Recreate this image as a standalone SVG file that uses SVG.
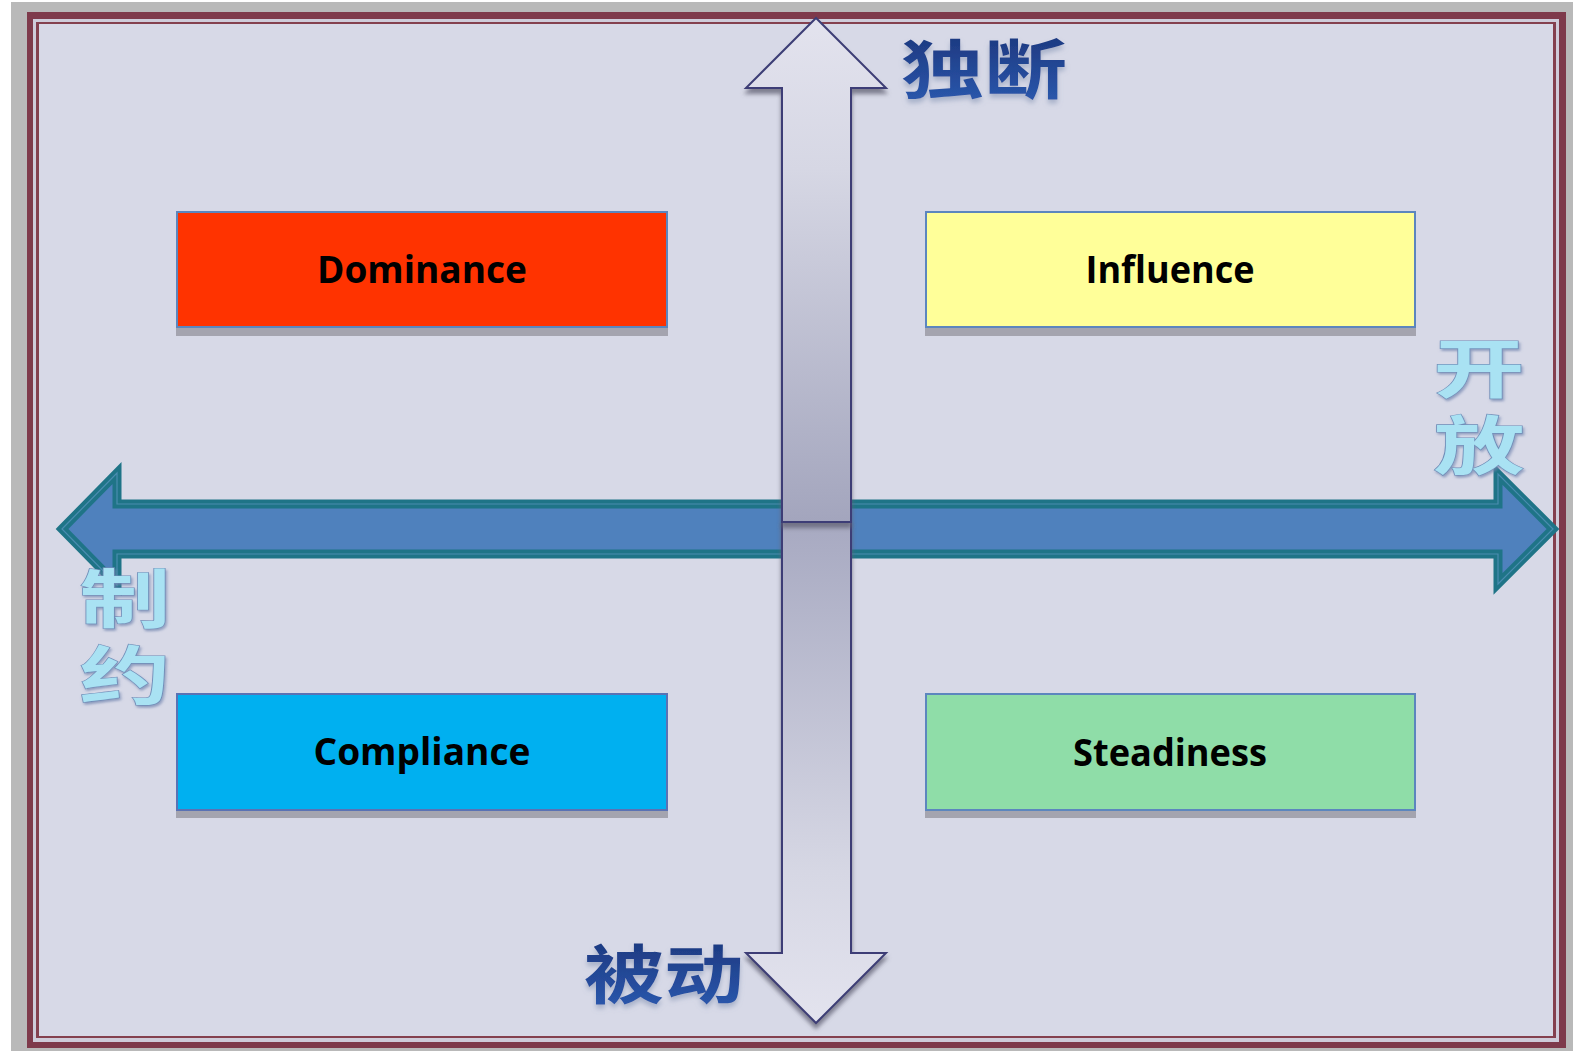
<svg xmlns="http://www.w3.org/2000/svg" width="1573" height="1051" viewBox="0 0 1573 1051">
  <defs>
    <style>
      .box { stroke-width: 2; }
      .boxshadow { fill: #A4A4AF; }
      .label { font-family: "Open Sans", "Noto Sans", "Liberation Sans", sans-serif; font-weight: 700; font-size: 38px; fill: #000; text-anchor: middle; }
      .cjkdark { font-family: "Noto Sans CJK SC", "Noto Sans", sans-serif; font-weight: 700; font-size: 64px; }
      .cjklight { font-family: "Noto Sans CJK SC", "Noto Sans", sans-serif; font-weight: 700; font-size: 64px; fill: #A9E2F3; stroke: #6F8DB8; stroke-width: 1.2; paint-order: stroke; writing-mode: vertical-rl; letter-spacing: 13px; }
    </style>
    <linearGradient id="upGrad" x1="0" y1="0" x2="0" y2="1">
      <stop offset="0" stop-color="#E3E3EE"/>
      <stop offset="0.3" stop-color="#D6D7E4"/>
      <stop offset="1" stop-color="#A3A5BD"/>
    </linearGradient>
    <linearGradient id="downGrad" x1="0" y1="0" x2="0" y2="1">
      <stop offset="0" stop-color="#A7A9C1"/>
      <stop offset="0.7" stop-color="#D6D7E4"/>
      <stop offset="1" stop-color="#E3E3EE"/>
    </linearGradient>
    <linearGradient id="darkText" x1="0" y1="0" x2="0" y2="1">
      <stop offset="0" stop-color="#1A3276"/>
      <stop offset="1" stop-color="#2C5BB2"/>
    </linearGradient>
    <filter id="shadow" x="-20%" y="-5%" width="140%" height="115%">
      <feDropShadow dx="0" dy="5" stdDeviation="2" flood-color="#5E5F72" flood-opacity="0.75"/>
    </filter>
    <filter id="soft" x="-10%" y="-10%" width="120%" height="140%">
      <feDropShadow dx="0" dy="4" stdDeviation="2.5" flood-color="#8090B0" flood-opacity="0.55"/>
    </filter>
    <filter id="emboss" x="-10%" y="-10%" width="120%" height="120%">
      <feDropShadow dx="1" dy="2" stdDeviation="1.2" flood-color="#7084AE" flood-opacity="0.7"/>
    </filter>
  </defs>

  <!-- frame -->
  <g id="frame">
    <rect x="11" y="2" width="1562" height="1049" fill="#B9B9B9"/>
    <rect x="27" y="12" width="1539" height="1036" fill="#7E3A4B"/>
    <rect x="33" y="19" width="1526" height="1023" fill="#CFCCDA"/>
    <rect x="36" y="22" width="1520" height="1016" fill="#84404F"/>
    <rect x="39" y="24" width="1514" height="1012" fill="#D7D9E7"/>
  </g>

  <!-- nodes -->
  <g id="node-dominance">
    <rect class="boxshadow" x="176" y="327" width="492" height="9"/>
    <rect class="box" x="177" y="212" width="490" height="115" fill="#FF3300" stroke="#5C86BE"/>
    <text class="label" x="422" y="283" textLength="210" lengthAdjust="spacingAndGlyphs">Dominance</text>
  </g>
  <g id="node-influence">
    <rect class="boxshadow" x="925" y="327" width="491" height="9"/>
    <rect class="box" x="926" y="212" width="489" height="115" fill="#FFFF99" stroke="#5C86BE"/>
    <text class="label" x="1170" y="283" textLength="169" lengthAdjust="spacingAndGlyphs">Influence</text>
  </g>
  <g id="node-compliance">
    <rect class="boxshadow" x="176" y="810" width="492" height="8"/>
    <rect class="box" x="177" y="694" width="490" height="116" fill="#00B0F0" stroke="#5A72B4"/>
    <text class="label" x="422" y="765" textLength="217" lengthAdjust="spacingAndGlyphs">Compliance</text>
  </g>
  <g id="node-steadiness">
    <rect class="boxshadow" x="925" y="810" width="491" height="8"/>
    <rect class="box" x="926" y="694" width="489" height="116" fill="#8FDDA8" stroke="#5C86BE"/>
    <text class="label" x="1170" y="766" textLength="194" lengthAdjust="spacingAndGlyphs">Steadiness</text>
  </g>

  <!-- connectors (axes) -->
  <g id="connectors">
    <path d="M62,529 L117,473 L117,504 L1498,504 L1498,474 L1553,529 L1498,584 L1498,554 L117,554 L117,585 Z" fill="#4F81BD" stroke="#1F7487" stroke-width="9" stroke-linejoin="miter"/>
    <path d="M62,529 L117,473 L117,504 L1498,504 L1498,474 L1553,529 L1498,584 L1498,554 L117,554 L117,585 Z" fill="none" stroke="#4A8CB0" stroke-width="1.2"/>
    <path d="M782,520 L782,953 L746,953 L816,1023 L886,953 L851,953 L851,520 Z" fill="url(#downGrad)" stroke="#3D3E76" stroke-width="2" filter="url(#shadow)"/>
    <path d="M816,18 L746,88 L782,88 L782,522 L851,522 L851,88 L886,88 Z" fill="url(#upGrad)" stroke="#3D3E76" stroke-width="2" filter="url(#shadow)"/>
  </g>

  <!-- axis labels -->
  <g id="label-assertive">
    <text class="cjkdark" x="901" y="93" textLength="166" lengthAdjust="spacingAndGlyphs" fill="url(#darkText)" filter="url(#soft)">独断</text>
  </g>
  <g id="label-passive">
    <text class="cjkdark" x="584" y="998" textLength="160" lengthAdjust="spacingAndGlyphs" fill="url(#darkText)" filter="url(#soft)">被动</text>
  </g>
  <g id="label-open" transform="translate(1479,0) scale(1.42,1) translate(-1479,0)">
    <text class="cjklight" x="1479" y="336" filter="url(#emboss)">开放</text>
  </g>
  <g id="label-restrain" transform="translate(125,0) scale(1.42,1) translate(-125,0)">
    <text class="cjklight" x="125" y="566" filter="url(#emboss)">制约</text>
  </g>
</svg>
